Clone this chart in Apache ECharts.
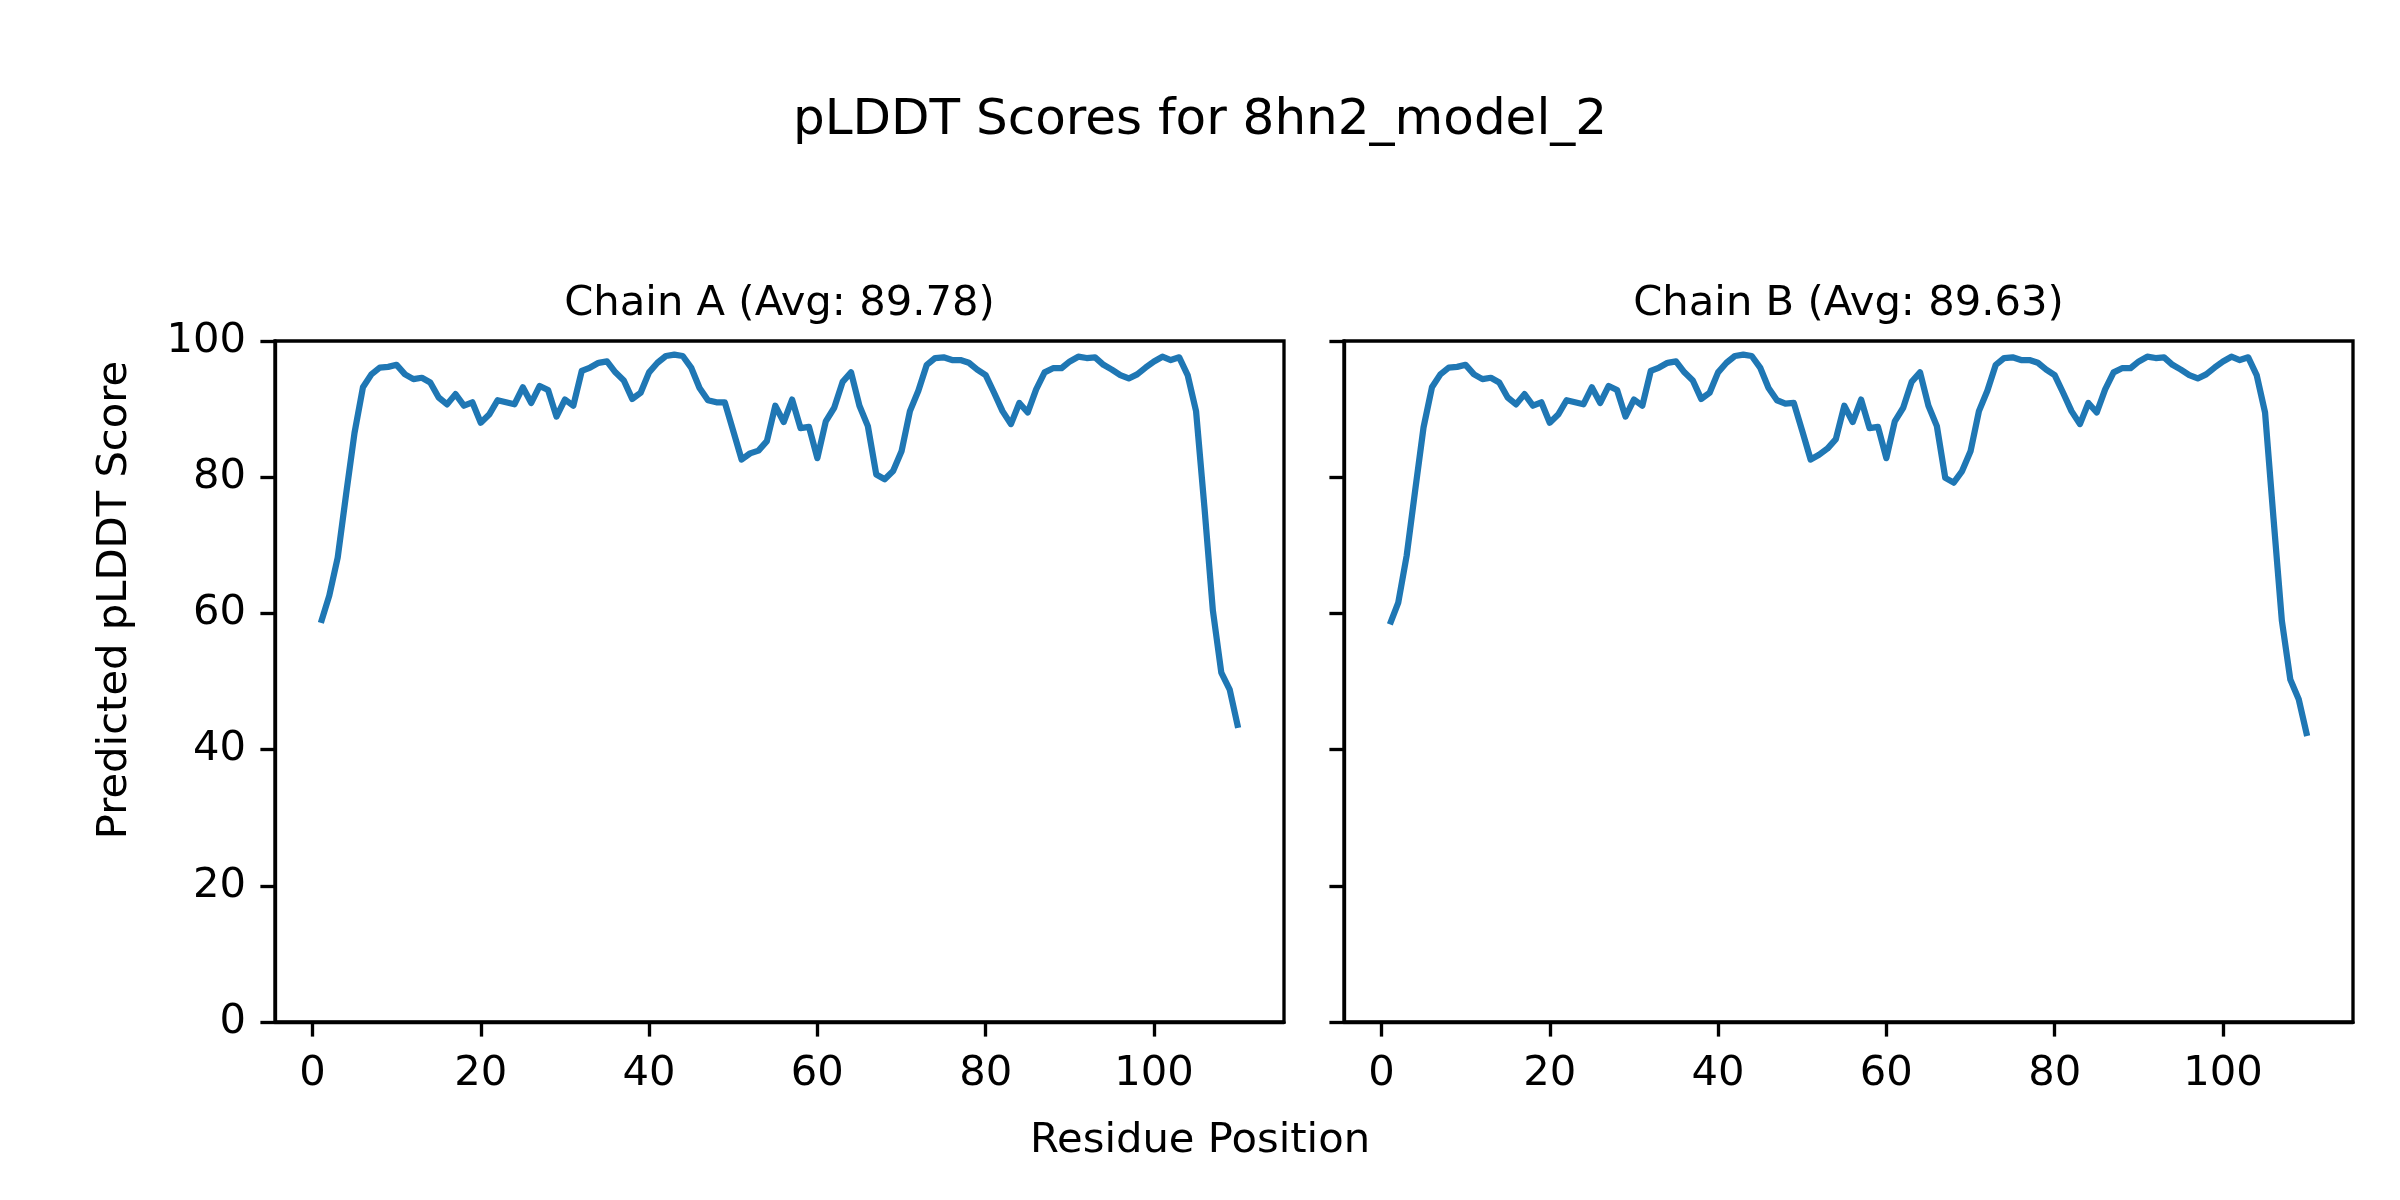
<!DOCTYPE html>
<html>
<head>
<meta charset="utf-8">
<script src="https://cdn.jsdelivr.net/npm/echarts@6/dist/echarts.min.js"></script>
<style>
html,body{margin:0;padding:0;background:#fff;}
#chart{width:2400px;height:1200px;}
</style>
</head>
<body>
<div id="chart"></div>
<script>
// Residue positions 1..110
const residues = [];
for (let i = 1; i <= 110; i++) residues.push(i);

const chainA = [
  58.6, 62.6, 68.2, 77.5, 86.5, 93.2, 95.1, 96.1, 96.2, 96.5,
  95.1, 94.4, 94.6, 93.9, 91.7, 90.7, 92.2, 90.5, 91.0, 88.0,
  89.2, 91.3, 91.0, 90.7, 93.2, 90.9, 93.4, 92.8, 88.9, 91.4,
  90.5, 95.6, 96.1, 96.8, 97.0, 95.4, 94.2, 91.5, 92.4, 95.4,
  96.8, 97.8, 98.0, 97.8, 96.1, 93.1, 91.3, 91.0, 91.0, 86.8,
  82.6, 83.5, 83.9, 85.3, 90.5, 88.1, 91.4, 87.2, 87.4, 82.8,
  88.2, 90.2, 94.0, 95.4, 90.5, 87.5, 80.4, 79.7, 80.9, 83.8,
  89.7, 92.7, 96.5, 97.5, 97.6, 97.2, 97.2, 96.8, 95.8, 95.0,
  92.4, 89.7, 87.8, 90.9, 89.5, 92.9, 95.4, 96.0, 96.0, 97.0,
  97.7, 97.5, 97.6, 96.5, 95.8, 95.0, 94.5, 95.1, 96.1, 97.0,
  97.7, 97.2, 97.6, 95.0, 89.7, 75.5, 60.4, 51.3, 48.8, 43.2
];

const chainB = [
  58.4, 61.6, 68.5, 78.0, 87.3, 93.2, 95.1, 96.1, 96.2, 96.5,
  95.1, 94.4, 94.6, 93.9, 91.7, 90.7, 92.2, 90.5, 91.0, 88.0,
  89.2, 91.3, 91.0, 90.7, 93.2, 90.9, 93.4, 92.8, 88.9, 91.4,
  90.5, 95.6, 96.1, 96.8, 97.0, 95.4, 94.2, 91.5, 92.4, 95.4,
  96.8, 97.8, 98.0, 97.8, 96.1, 93.1, 91.3, 90.8, 90.9, 86.8,
  82.6, 83.3, 84.2, 85.6, 90.5, 88.1, 91.4, 87.2, 87.4, 82.8,
  88.2, 90.2, 94.0, 95.4, 90.5, 87.5, 79.9, 79.2, 80.9, 83.8,
  89.7, 92.7, 96.5, 97.5, 97.6, 97.2, 97.2, 96.8, 95.8, 95.0,
  92.4, 89.7, 87.8, 90.9, 89.5, 92.9, 95.4, 96.0, 96.0, 97.0,
  97.7, 97.5, 97.6, 96.5, 95.8, 95.0, 94.5, 95.1, 96.1, 97.0,
  97.7, 97.2, 97.6, 95.0, 89.5, 74.0, 58.9, 50.3, 47.4, 42.0
];

const chainTitles = ['Chain A (Avg: 89.78)', 'Chain B (Avg: 89.63)'];
const xTicks = [0, 20, 40, 60, 80, 100];
const yTicks = [0, 20, 40, 60, 80, 100];
const mainTitle = 'pLDDT Scores for 8hn2_model_2';
const xLabel = 'Residue Position';
const yLabel = 'Predicted pLDDT Score';

const FONT = 'DejaVu Sans';
const FS = 41.7;
const LW = 3.33;
const TICKLEN = 14.6;

const grids = [
  {left: 275, top: 341, width: 1009, height: 681},
  {left: 1344, top: 341, width: 1009, height: 681}
];

const chart = echarts.init(document.getElementById('chart'), null, {renderer: 'canvas'});

function pairs(ys) { return residues.map((r, i) => [r, ys[i]]); }

const option = {
  backgroundColor: '#ffffff',
  animation: false,
  grid: grids.map(g => Object.assign({
    show: true, borderColor: '#000', borderWidth: LW, backgroundColor: 'transparent',
    containLabel: false, outerBoundsMode: 'none'
  }, g)),
  xAxis: [0, 1].map(i => ({
    type: 'value', gridIndex: i, min: -4.45, max: 115.45,
    axisLine: {show: true, onZero: false, lineStyle: {color: '#000', width: LW}},
    axisTick: {show: true, inside: false, length: TICKLEN, lineStyle: {color: '#000', width: LW}, customValues: xTicks},
    axisLabel: {show: true, margin: 31, color: '#000', fontFamily: FONT, fontSize: FS, customValues: xTicks},
    splitLine: {show: false}
  })),
  yAxis: [0, 1].map(i => ({
    type: 'value', gridIndex: i, min: 0, max: 100, interval: 20,
    axisLine: {show: true, onZero: false, lineStyle: {color: '#000', width: LW}},
    axisTick: {show: true, inside: false, length: TICKLEN, lineStyle: {color: '#000', width: LW}},
    axisLabel: {show: i === 0, margin: 29, color: '#000', fontFamily: FONT, fontSize: FS},
    splitLine: {show: false}
  })),
  series: [chainA, chainB].map((d, i) => ({
    type: 'line', xAxisIndex: i, yAxisIndex: i,
    data: pairs(d), showSymbol: false, symbol: 'none',
    lineStyle: {color: '#1f77b4', width: 6.25, join: 'round', cap: 'butt'},
    z: 3
  })),
  graphic: [
    {type: 'text', x: 1200, y: 121, style: {text: mainTitle, fontFamily: FONT, fontSize: 50, fill: '#000', align: 'center', verticalAlign: 'middle'}},
    {type: 'text', x: 779.5, y: 304, style: {text: chainTitles[0], fontFamily: FONT, fontSize: FS, fill: '#000', align: 'center', verticalAlign: 'middle'}},
    {type: 'text', x: 1848.5, y: 304, style: {text: chainTitles[1], fontFamily: FONT, fontSize: FS, fill: '#000', align: 'center', verticalAlign: 'middle'}},
    {type: 'text', x: 1200, y: 1141, style: {text: xLabel, fontFamily: FONT, fontSize: FS, fill: '#000', align: 'center', verticalAlign: 'middle'}},
    {type: 'text', x: 115, y: 600, rotation: Math.PI / 2, style: {text: yLabel, fontFamily: FONT, fontSize: FS, fill: '#000', align: 'center', verticalAlign: 'middle'}}
  ]
};

chart.setOption(option);
</script>
</body>
</html>
